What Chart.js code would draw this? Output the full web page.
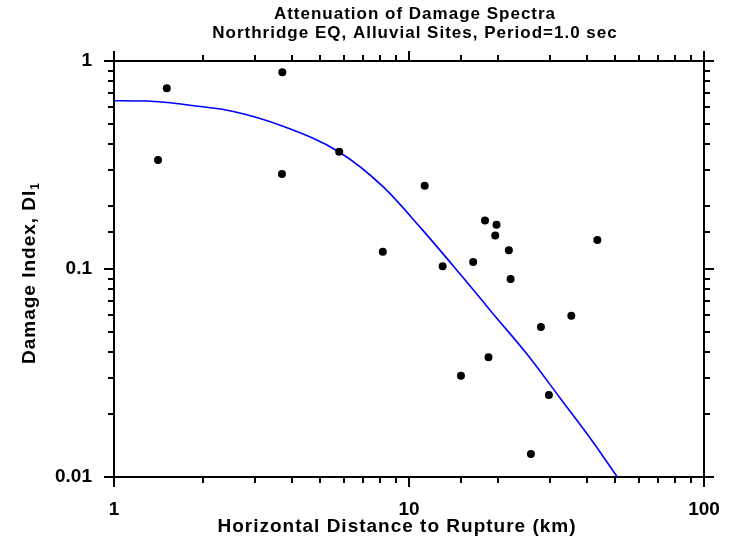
<!DOCTYPE html>
<html>
<head>
<meta charset="utf-8">
<script src="https://cdn.jsdelivr.net/npm/chart.js@4/dist/chart.umd.min.js"></script>
<style>
  body { margin: 0; background: #fff; }
  #wrap { width: 729px; height: 548px; }
</style>
</head>
<body>
<div id="wrap"><canvas id="damageChart" width="729" height="548"></canvas></div>
<script>
// recorded sites: distance (km) and damage index
const siteDistance = [1.41, 1.51, 3.72, 3.71, 5.8, 8.15, 11.3, 13.0, 16.5, 18.1, 19.8, 19.6, 21.8, 22.1, 43.5, 35.5, 28.0, 18.6, 15.0, 29.8, 25.9]
const siteDamage = [0.334, 0.739, 0.882, 0.286, 0.366, 0.121, 0.251, 0.103, 0.108, 0.171, 0.163, 0.145, 0.123, 0.0895, 0.138, 0.0596, 0.0526, 0.0376, 0.0307, 0.0248, 0.0129]

// fitted attenuation curve
const curveDistance = [1, 1.29, 1.96, 2.54, 3.72, 5.8, 8.18, 10.9, 14.9, 19.3, 25.1, 32.5, 42.1, 50.8]
const curveDamage = [0.644, 0.642, 0.604, 0.572, 0.487, 0.365, 0.248, 0.159, 0.0946, 0.0608, 0.039, 0.024, 0.0147, 0.01]

// tick labels
const xTickValues = [1, 10, 100]
const xTickLabels = ['1', '10', '100']
const yTickValues = [0.01, 0.1, 1]
const yTickLabels = ['0.01', '0.1', '1']

const chartTitle = ['Attenuation of Damage Spectra', 'Northridge EQ, Alluvial Sites, Period=1.0 sec']
const xTitle = 'Horizontal Distance to Rupture (km)'
const yTitle = 'Damage Index, DI'
const yTitleSub = '1'

const FONT = "'Liberation Sans', Arial, sans-serif"
Chart.defaults.font.family = FONT
Chart.defaults.color = '#000'

function isDecade(v) {
  const l = Math.log10(v)
  return Math.abs(l - Math.round(l)) < 1e-6
}

function labelFor(values, labels, v) {
  const i = values.findIndex((t) => Math.abs(Math.log10(t) - Math.log10(v)) < 1e-6)
  return i >= 0 ? labels[i] : ''
}

// outward tick marks, long at decades, short in between
const tickMarks = {
  id: 'tickMarks',
  afterDraw(chart) {
    const { ctx, chartArea: a } = chart
    ctx.save()
    ctx.strokeStyle = '#000'
    ctx.lineWidth = 2
    ctx.beginPath()
    ;['x', 'x2'].forEach((id) => {
      const s = chart.scales[id]
      s.ticks.forEach((t) => {
        const p = Math.round(s.getPixelForValue(t.value))
        const len = isDecade(t.value) ? 10 : 6
        if (id === 'x') {
          ctx.moveTo(p, a.bottom); ctx.lineTo(p, a.bottom + len)
        } else {
          ctx.moveTo(p, a.top); ctx.lineTo(p, a.top - len)
        }
      })
    })
    ;['y', 'y2'].forEach((id) => {
      const s = chart.scales[id]
      s.ticks.forEach((t) => {
        const p = Math.round(s.getPixelForValue(t.value))
        const len = isDecade(t.value) ? 10 : 6
        if (id === 'y') {
          ctx.moveTo(a.left, p); ctx.lineTo(a.left - len, p)
        } else {
          ctx.moveTo(a.right, p); ctx.lineTo(a.right + len, p)
        }
      })
    })
    ctx.stroke()
    ctx.restore()
  }
}

// titles (y title needs a subscript)
const titles = {
  id: 'titles',
  afterDraw(chart) {
    const { ctx, chartArea: a } = chart
    ctx.save()
    ctx.fillStyle = '#000'
    ctx.textAlign = 'center'
    ctx.textBaseline = 'alphabetic'
    ctx.letterSpacing = '1px'
    ctx.font = 'bold 17px ' + FONT
    const cx = (a.left + a.right) / 2 + 6
    ctx.fillText(chartTitle[0], cx, 19)
    ctx.fillText(chartTitle[1], cx, 38)

    ctx.font = 'bold 19px ' + FONT
    ctx.fillText(xTitle, (a.left + a.right) / 2 - 12, 532)

    // rotated y title
    ctx.translate(35, (a.top + a.bottom) / 2 + 4)
    ctx.rotate(-Math.PI / 2)
    ctx.font = 'bold 19px ' + FONT
    const w1 = ctx.measureText(yTitle).width
    ctx.font = 'bold 12px ' + FONT
    const w2 = ctx.measureText(yTitleSub).width
    const start = -(w1 + w2) / 2
    ctx.textAlign = 'left'
    ctx.font = 'bold 19px ' + FONT
    ctx.fillText(yTitle, start, 0)
    ctx.font = 'bold 12px ' + FONT
    ctx.fillText(yTitleSub, start + w1, 4)
    ctx.restore()
  }
}

// tick marks are drawn by the plugin, the hidden grid ticks only space the labels
const logAxis = (min, max, gap, extra) =>
  Object.assign(
    {
      type: 'logarithmic',
      min: min,
      max: max,
      grid: {
        display: true,
        drawOnChartArea: false,
        drawTicks: true,
        tickLength: gap,
        tickColor: 'rgba(0,0,0,0)'
      },
      border: { display: true, color: '#000', width: 2 }
    },
    extra
  )

new Chart(document.getElementById('damageChart').getContext('2d'), {
  type: 'scatter',
  data: {
    datasets: [
      {
        label: 'Sites',
        data: siteDistance.map((d, i) => ({ x: d, y: siteDamage[i] })),
        backgroundColor: '#000',
        borderWidth: 0,
        pointRadius: 4,
        pointHoverRadius: 4
      },
      {
        label: 'Attenuation',
        data: curveDistance.map((d, i) => ({ x: d, y: curveDamage[i] })),
        showLine: true,
        borderColor: '#0000ff',
        borderWidth: 1.6,
        pointRadius: 0,
        cubicInterpolationMode: 'monotone',
        fill: false
      }
    ]
  },
  options: {
    responsive: false,
    animation: false,
    events: [],
    layout: { padding: 0 },
    plugins: {
      legend: { display: false },
      title: { display: false },
      tooltip: { enabled: false }
    },
    scales: {
      x: logAxis(1, 100, 21, {
        position: 'bottom',
        ticks: {
          autoSkip: false,
          maxRotation: 0,
          padding: 0,
          font: { size: 19, weight: 'bold' },
          callback: (v) => labelFor(xTickValues, xTickLabels, v)
        },
        afterFit: (s) => { s.height = 71 }
      }),
      x2: logAxis(1, 100, 10, {
        position: 'top',
        ticks: { display: false, autoSkip: false },
        afterFit: (s) => { s.height = 61 }
      }),
      y: logAxis(0.01, 1, 22, {
        position: 'left',
        ticks: {
          autoSkip: false,
          padding: 0,
          font: { size: 19, weight: 'bold' },
          callback: (v) => labelFor(yTickValues, yTickLabels, v)
        },
        afterFit: (s) => { s.width = 114 }
      }),
      y2: logAxis(0.01, 1, 10, {
        position: 'right',
        ticks: { display: false, autoSkip: false },
        afterFit: (s) => { s.width = 25 }
      })
    }
  },
  plugins: [tickMarks, titles]
})
</script>
</body>
</html>
